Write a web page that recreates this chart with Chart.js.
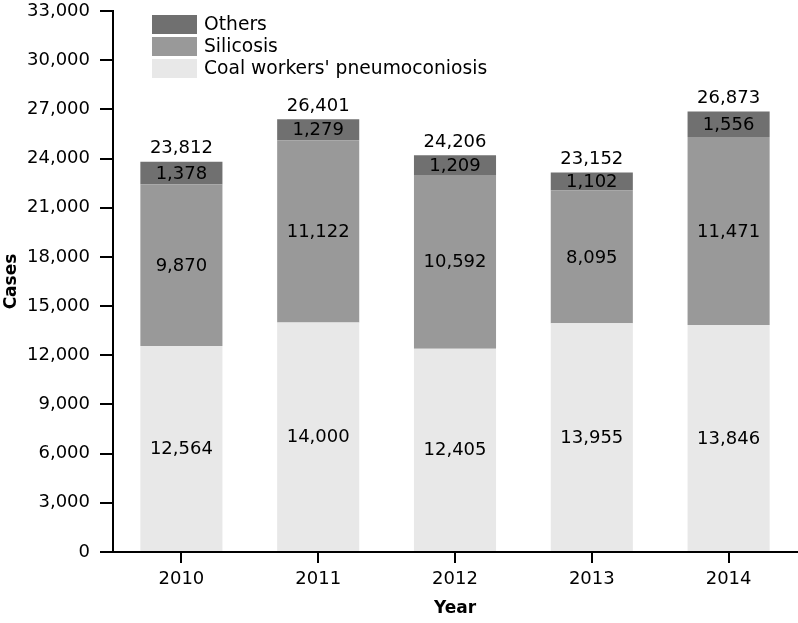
<!DOCTYPE html>
<html>
<head>
<meta charset="utf-8">
<script src="https://cdn.jsdelivr.net/npm/chart.js@4.4.1/dist/chart.umd.min.js"></script>
<style>
  html, body { margin: 0; padding: 0; background: #fff; }
  #wrap { width: 798px; height: 623px; }
</style>
</head>
<body>
<div id="wrap"><canvas id="chart" width="798" height="623"></canvas></div>
<script>
// data
var years = ["2010", "2011", "2012", "2013", "2014"];
var coalWorkers = [12564, 14000, 12405, 13955, 13846];
var silicosis = [9870, 11122, 10592, 8095, 11471];
var others = [1378, 1279, 1209, 1102, 1556];
var totals = [23812, 26401, 24206, 23152, 26873];
var yTicks = [0, 3000, 6000, 9000, 12000, 15000, 18000, 21000, 24000, 27000, 30000, 33000];

var FONT = "'DejaVu Sans', 'Liberation Sans', Arial, sans-serif";

function fmt(v) {
    return v.toLocaleString("en-US");
}

// value labels inside segments + totals above bars
var labelPlugin = {
    id: "valueLabels",
    afterDatasetsDraw: function (chart) {
        var ctx = chart.ctx;
        ctx.save();
        ctx.font = "18px " + FONT;
        ctx.fillStyle = "#000";
        ctx.textAlign = "center";
        ctx.textBaseline = "middle";
        var last = chart.data.datasets.length - 1;
        chart.data.datasets.forEach(function (ds, di) {
            var meta = chart.getDatasetMeta(di);
            meta.data.forEach(function (bar, i) {
                var mid = (bar.y + bar.base) / 2;
                ctx.fillText(fmt(ds.data[i]), bar.x, mid + 1);
                if (di === last) {
                    ctx.fillText(fmt(totals[i]), bar.x, bar.y - 13);
                }
            });
        });
        ctx.restore();
    }
};

// legend drawn inside the plot area, top-left, reverse order
var legendPlugin = {
    id: "innerLegend",
    afterDraw: function (chart) {
        var ctx = chart.ctx;
        var area = chart.chartArea;
        var x = area.left + 39;
        var y = area.top + 4;
        ctx.save();
        ctx.font = "18.7px " + FONT;
        ctx.textBaseline = "middle";
        ctx.textAlign = "left";
        var ds = chart.data.datasets.slice().reverse();
        ds.forEach(function (d, k) {
            var top = y + k * 22;
            ctx.fillStyle = d.backgroundColor;
            ctx.fillRect(x, top, 45, 19);
            ctx.fillStyle = "#000";
            ctx.fillText(d.label, x + 52, top + 10);
        });
        ctx.restore();
    }
};

var ctx = document.getElementById("chart").getContext("2d");
var chart = new Chart(ctx, {
    type: "bar",
    data: {
        labels: years,
        datasets: [
            { label: "Coal workers' pneumoconiosis", data: coalWorkers, backgroundColor: "#e8e8e8" },
            { label: "Silicosis", data: silicosis, backgroundColor: "#999999" },
            { label: "Others", data: others, backgroundColor: "#707070" }
        ]
    },
    options: {
        responsive: false,
        animation: false,
        devicePixelRatio: 1,
        layout: { padding: { top: 11, right: 1, left: 0, bottom: 0 } },
        datasets: {
            bar: { categoryPercentage: 1.0, barPercentage: 0.6, borderWidth: 0 }
        },
        plugins: {
            legend: { display: false },
            tooltip: { enabled: false }
        },
        scales: {
            x: {
                stacked: true,
                offset: true,
                afterFit: function (s) {
                    s.height = 71;
                    s.paddingLeft = 0;
                    s.paddingRight = 0;
                },
                border: { display: true, color: "#000", width: 2 },
                grid: {
                    offset: false,
                    drawOnChartArea: false,
                    drawTicks: true,
                    tickLength: 11,
                    color: "#000",
                    lineWidth: 2
                },
                ticks: {
                    color: "#000",
                    padding: 6,
                    font: { family: FONT, size: 18 }
                },
                title: {
                    display: true,
                    text: "Year",
                    color: "#000",
                    padding: { top: 0, bottom: 4 },
                    font: { family: FONT, size: 17, weight: "bold" }
                }
            },
            y: {
                stacked: true,
                min: 0,
                max: 33000,
                afterFit: function (s) {
                    s.width = 113;
                    s.paddingTop = 0;
                    s.paddingBottom = 0;
                },
                afterBuildTicks: function (s) {
                    s.ticks = yTicks.map(function (v) { return { value: v }; });
                },
                border: { display: true, color: "#000", width: 2 },
                grid: {
                    drawOnChartArea: false,
                    drawTicks: true,
                    tickLength: 13,
                    color: "#000",
                    lineWidth: 2
                },
                ticks: {
                    color: "#000",
                    padding: 10,
                    font: { family: FONT, size: 18 },
                    callback: function (v) { return fmt(v); }
                },
                title: {
                    display: true,
                    text: "Cases",
                    color: "#000",
                    padding: { top: 1, bottom: 0 },
                    font: { family: FONT, size: 17, weight: "bold" }
                }
            }
        }
    },
    plugins: [labelPlugin, legendPlugin]
});
</script>
</body>
</html>
